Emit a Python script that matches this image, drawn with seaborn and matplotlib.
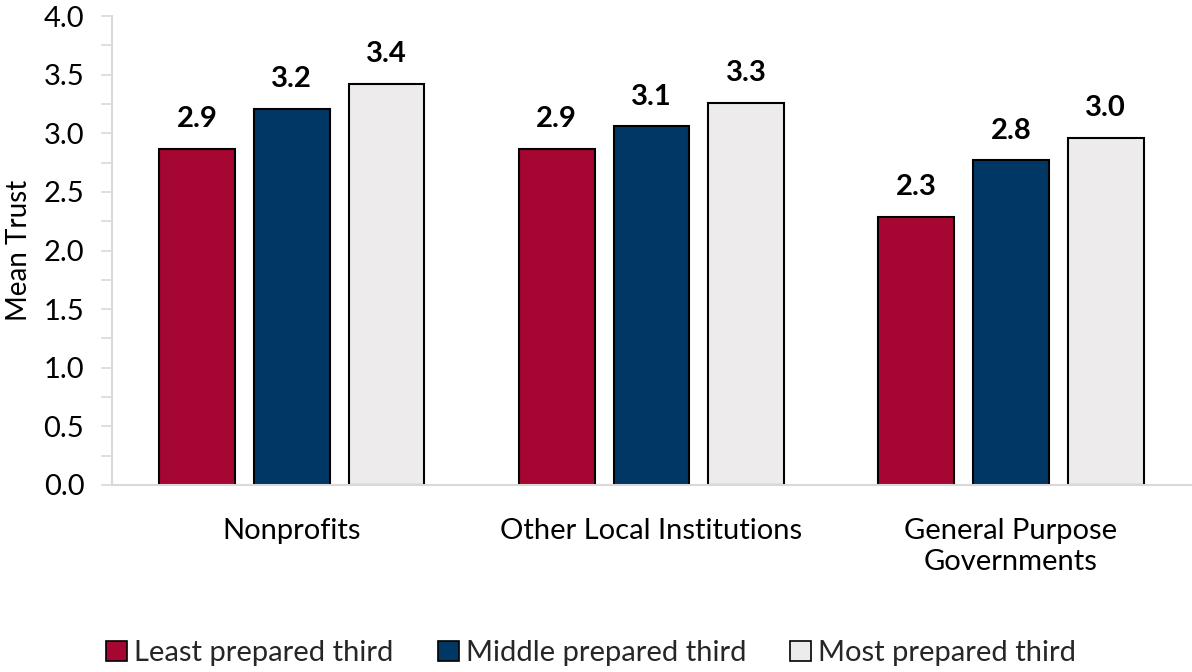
import matplotlib
matplotlib.use("Agg")
import matplotlib.pyplot as plt
from matplotlib.ticker import MultipleLocator, FormatStrFormatter
from matplotlib.patches import Patch
import seaborn as sns
import pandas as pd

categories = ["Nonprofits", "Other Local Institutions", "General Purpose\nGovernments"]
groups = ["Least prepared third", "Middle prepared third", "Most prepared third"]
least = [2.87, 2.87, 2.29]
middle = [3.21, 3.06, 2.77]
most = [3.42, 3.26, 2.96]
colors = ["#A50632", "#003764", "#EDEBEC"]

df = pd.DataFrame({
    "Institution": categories * 3,
    "Group": [groups[0]] * 3 + [groups[1]] * 3 + [groups[2]] * 3,
    "Mean Trust": least + middle + most,
})

sns.set_theme(style="white")
plt.rcParams["font.family"] = ["Lato", "DejaVu Sans"]

FS = 21

fig = plt.figure(figsize=(11.92, 6.72), dpi=100)
ax = fig.add_axes([0.094, 0.2783, 0.905, 0.6977])

sns.barplot(data=df, x="Institution", y="Mean Trust", hue="Group",
            hue_order=groups, palette=colors, saturation=1, width=0.79, gap=0.2,
            edgecolor="black", linewidth=1.5, errorbar=None, ax=ax,
            legend=False)

for cont in ax.containers:
    ax.bar_label(cont, fmt="%.1f", padding=12, fontsize=FS,
                 fontweight="bold", color="black")

ax.set_xlim(-0.5, 2.5)
ax.set_ylim(0, 4.0)
ax.yaxis.set_major_locator(MultipleLocator(0.5))
ax.yaxis.set_minor_locator(MultipleLocator(0.25))
ax.yaxis.set_major_formatter(FormatStrFormatter("%.1f"))
ax.tick_params(axis="y", which="both", left=True, length=8, width=1.2,
               color="#d9d9d9", labelsize=FS, pad=12, labelcolor="black")
ax.tick_params(axis="x", bottom=False, labelsize=FS, pad=18, labelcolor="black")
for lbl in ax.get_xticklabels():
    lbl.set_linespacing(1.2)

for side in ["top", "right"]:
    ax.spines[side].set_visible(False)
for side in ["left", "bottom"]:
    ax.spines[side].set_color("#d9d9d9")
    ax.spines[side].set_linewidth(1.5)

ax.set_xlabel("")
ax.set_ylabel("Mean Trust", fontsize=FS - 1, color="black", labelpad=8)

handles = [Patch(facecolor=c, edgecolor="black", linewidth=1.2) for c in colors]
fig.legend(handles, groups, loc="center", bbox_to_anchor=(0.496, 0.028),
           ncol=3, frameon=False, fontsize=FS, handlelength=0.72,
           handleheight=0.72, handletextpad=0.25, columnspacing=1.5)

fig.savefig("out.png", dpi=100)
